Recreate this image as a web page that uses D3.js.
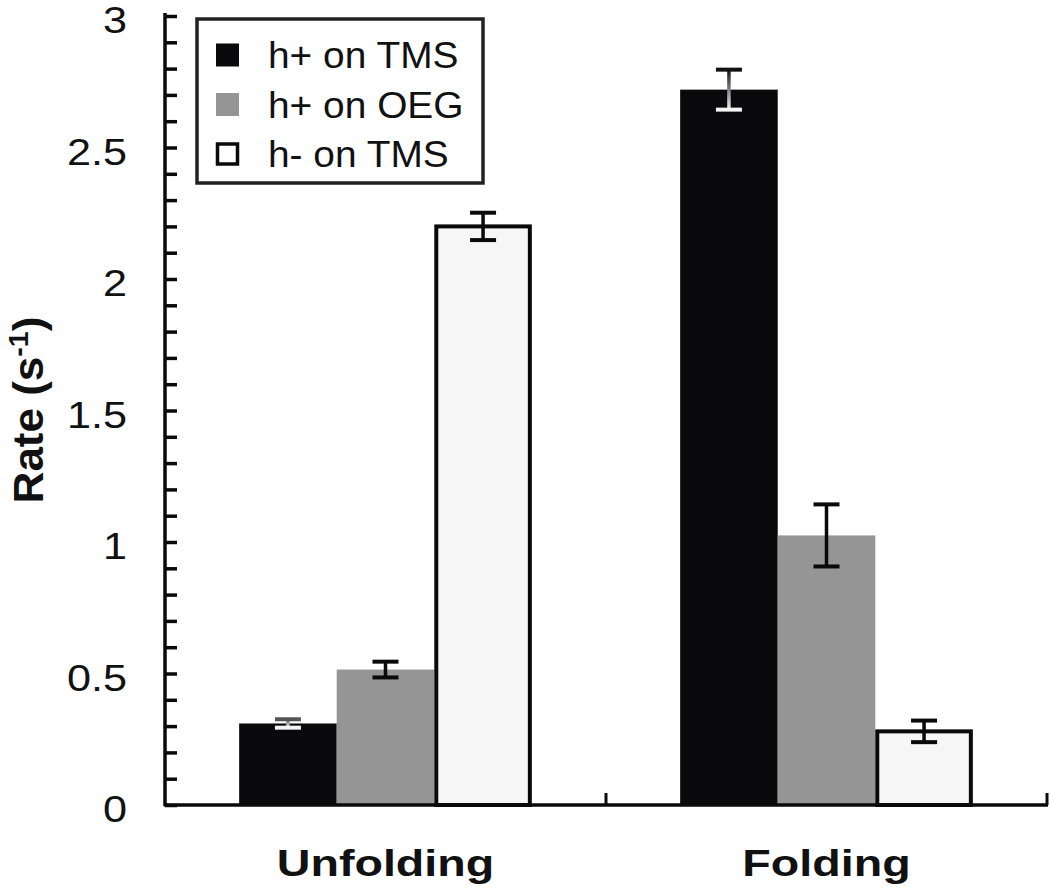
<!DOCTYPE html>
<html>
  <head>
    <title>Rate bar chart</title>
    <script src="https://d3js.org/d3.v7.min.js"></script>
    <style>
      body { margin: 0; background-color: #ffffff; }
      text { font-family: "Liberation Sans", Arial, sans-serif; fill: #111; }
    </style>
  </head>
  <body>
<script>
// data
var categories = ["Unfolding", "Folding"];
var series = ["h+ on TMS", "h+ on OEG", "h- on TMS"];
var hPlusTMS = [0.31, 2.72];
var hPlusOEG = [0.515, 1.025];
var hMinusTMS = [2.2, 0.28];
var errPlusTMS = [0.016, 0.076];
var errPlusOEG = [0.03, 0.118];
var errMinusTMS = [0.052, 0.041];
var yTicks = [0, 0.5, 1, 1.5, 2, 2.5, 3];

var values = [hPlusTMS, hPlusOEG, hMinusTMS];
var errors = [errPlusTMS, errPlusOEG, errMinusTMS];
var fills = ["#0a0a0c", "#959595", "#f6f6f6"];

var w = 1050, h = 895;

var svg = d3.select("body").append("svg")
  .attr("width", w)
  .attr("height", h);

var defs = svg.append("defs");

// scales
var x0 = d3.scaleBand().domain(categories).range([165, 1047]);
var x1 = d3.scaleBand().domain(series).range([0, x0.bandwidth()]).paddingOuter(0.76);
var y = d3.scaleLinear().domain([0, 3]).range([805, 16]);

// bars
var rows = [];
categories.forEach(function(c, i) {
  series.forEach(function(s, j) {
    rows.push({cat: c, ser: s, j: j, v: values[j][i], e: errors[j][i]});
  });
});

var barG = svg.append("g");
barG.selectAll("rect")
  .data(rows)
  .enter()
  .append("rect")
  .attr("x", function(d) { return x0(d.cat) + x1(d.ser) + (d.j == 2 ? 2 : 0); })
  .attr("y", function(d) { return y(d.v); })
  .attr("width", function(d) { return x1.bandwidth() - (d.j == 2 ? 4 : 0); })
  .attr("height", function(d) { return y(0) - y(d.v); })
  .style("fill", function(d) { return fills[d.j]; })
  .style("stroke", function(d) { return d.j == 2 ? "#0a0a0a" : "none"; })
  .style("stroke-width", 4);

// error bars (the ones over black bars fade to white inside the bar)
var errG = svg.append("g");
rows.forEach(function(d, k) {
  var cx = x0(d.cat) + x1(d.ser) + x1.bandwidth() / 2;
  var top = y(d.v + d.e), bot = y(d.v - d.e);
  var col = "#0a0a0a";
  if (d.j == 0) {
    var gid = "eg" + k;
    var g = defs.append("linearGradient")
      .attr("id", gid)
      .attr("gradientUnits", "userSpaceOnUse")
      .attr("x1", 0).attr("x2", 0)
      .attr("y1", top).attr("y2", bot);
    g.append("stop").attr("offset", 0).attr("stop-color", d.cat == "Folding" ? "#111" : "#555");
    g.append("stop").attr("offset", 1).attr("stop-color", "#f4f4f4");
    col = "url(#" + gid + ")";
  }
  var eb = errG.append("g");
  eb.append("rect")
    .attr("x", cx - 1.75).attr("y", top)
    .attr("width", 3.5).attr("height", bot - top)
    .style("fill", col);
  eb.append("line")
    .attr("x1", cx - 13).attr("x2", cx + 13)
    .attr("y1", top).attr("y2", top)
    .style("stroke", d.j == 0 ? (d.cat == "Folding" ? "#111" : "#555") : col)
    .style("stroke-width", 4);
  eb.append("line")
    .attr("x1", cx - 13).attr("x2", cx + 13)
    .attr("y1", bot).attr("y2", bot)
    .style("stroke", d.j == 0 ? "#f4f4f4" : col)
    .style("stroke-width", 4);
});

// y axis, minor ticks every 0.1 pointing inward
var yAxis = d3.axisLeft(y)
  .tickValues(d3.range(0, 31).map(function(i) { return i / 10; }))
  .tickSize(-12)
  .tickFormat("");
var yG = svg.append("g")
  .attr("transform", "translate(165,0)")
  .call(yAxis);
yG.select(".domain").remove();
yG.selectAll(".tick line").style("stroke", "#0a0a0a").style("stroke-width", 3.5);
yG.append("line")
  .attr("x1", 0).attr("x2", 0)
  .attr("y1", 13).attr("y2", 806)
  .style("stroke", "#0a0a0a").style("stroke-width", 3.5);

// y tick labels
svg.append("g").selectAll("text")
  .data(yTicks)
  .enter()
  .append("text")
  .attr("transform", function(d) { return "translate(127," + (y(d) + 17) + ") scale(1.2,1.03)"; })
  .attr("text-anchor", "end")
  .style("font-size", "36px")
  .text(function(d) { return d; });

// x axis
var xG = svg.append("g");
xG.append("line")
  .attr("x1", 164).attr("x2", 1048)
  .attr("y1", 805).attr("y2", 805)
  .style("stroke", "#0a0a0a").style("stroke-width", 3.5);
xG.selectAll("line.tk")
  .data(categories)
  .enter()
  .append("line")
  .attr("class", "tk")
  .attr("x1", function(d) { return x0(d) + x0.bandwidth(); })
  .attr("x2", function(d) { return x0(d) + x0.bandwidth(); })
  .attr("y1", 805).attr("y2", 793)
  .style("stroke", "#0a0a0a").style("stroke-width", 3);

xG.selectAll("text")
  .data(categories)
  .enter()
  .append("text")
  .attr("transform", function(d) { return "translate(" + (x0(d) + x0.bandwidth() / 2) + ",876) scale(1.26,1.02)"; })
  .attr("text-anchor", "middle")
  .style("font-size", "37px")
  .style("font-weight", "bold")
  .text(function(d) { return d; });

// y label
var yl = svg.append("text")
  .attr("transform", "translate(43,410) rotate(-90) scale(1.1,1.05)")
  .attr("text-anchor", "middle")
  .style("font-size", "40px")
  .style("font-weight", "bold");
yl.append("tspan").text("Rate (s");
yl.append("tspan").attr("dy", -14).style("font-size", "26px").text("-1");
yl.append("tspan").attr("dy", 14).text(")");

// legend
var legend = svg.append("g");
legend.append("rect")
  .attr("x", 197).attr("y", 19)
  .attr("width", 286).attr("height", 164)
  .style("fill", "#fff")
  .style("stroke", "#222")
  .style("stroke-width", 3.5);

var items = legend.selectAll("g.item")
  .data(series)
  .enter()
  .append("g")
  .attr("class", "item")
  .attr("transform", function(d, i) { return "translate(0," + (55 + i * 49.5) + ")"; });

items.append("rect")
  .attr("x", function(d, i) { return i == 2 ? 217.5 : 216; })
  .attr("y", function(d, i) { return i == 2 ? -10 : -11.5; })
  .attr("width", function(d, i) { return i == 2 ? 20 : 23; })
  .attr("height", function(d, i) { return i == 2 ? 20 : 23; })
  .style("fill", function(d, i) { return i == 2 ? "#fff" : fills[i]; })
  .style("stroke", function(d, i) { return i == 2 ? "#0a0a0a" : "none"; })
  .style("stroke-width", 3.5);

items.append("text")
  .attr("transform", "translate(268,13) scale(1.08,1.02)")
  .style("font-size", "36px")
  .text(function(d) { return d; });
</script>
  </body>
</html>
